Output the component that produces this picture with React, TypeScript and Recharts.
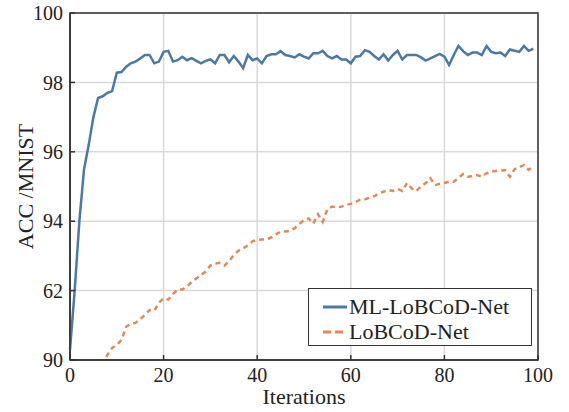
import React from 'react';
import {
  LineChart,
  Line,
  XAxis,
  YAxis,
  CartesianGrid,
  Legend,
  ReferenceArea,
} from 'recharts';

const iterations = Array.from({ length: 100 }, (_, i) => i);

// accuracy per iteration, ML-LoBCoD-Net
const mlLobcodAcc = [
  90.3, 92.0, 94.0, 95.5, 96.2, 97.0, 97.55, 97.6, 97.7, 97.75,
  98.28, 98.3, 98.45, 98.55, 98.6, 98.69, 98.79, 98.79, 98.55, 98.6,
  98.88, 98.91, 98.6, 98.64, 98.74, 98.64, 98.7, 98.62, 98.55, 98.62,
  98.66, 98.55, 98.79, 98.79, 98.58, 98.76, 98.6, 98.41, 98.79, 98.64,
  98.69, 98.55, 98.76, 98.81, 98.81, 98.9, 98.79, 98.76, 98.72, 98.81,
  98.74, 98.69, 98.84, 98.84, 98.91, 98.76, 98.69, 98.76, 98.66, 98.66,
  98.55, 98.74, 98.76, 98.93, 98.88, 98.76, 98.66, 98.81, 98.63, 98.79,
  98.91, 98.66, 98.79, 98.79, 98.79, 98.72, 98.63, 98.69, 98.76, 98.82,
  98.74, 98.5, 98.79, 99.05, 98.9, 98.79, 98.86, 98.86, 98.79, 99.05,
  98.88, 98.84, 98.86, 98.76, 98.95, 98.91, 98.88, 99.05, 98.91, 98.97,
];

// accuracy per iteration, LoBCoD-Net (below 90 for the first iterations)
const lobcodAcc: (number | null)[] = [
  null, null, null, null, null, null, null, 89.85, 90.15, 90.35,
  90.43, 90.58, 90.96, 91.04, 91.07, 91.17, 91.3, 91.44, 91.42, 91.65,
  91.78, 91.74, 91.9, 92.03, 92.03, 92.12, 92.25, 92.35, 92.45, 92.55,
  92.72, 92.78, 92.8, 92.72, 92.85, 93.03, 93.15, 93.22, 93.3, 93.42,
  93.46, 93.47, 93.47, 93.53, 93.62, 93.7, 93.7, 93.72, 93.8, 93.92,
  94.03, 94.08, 93.93, 94.2, 93.98, 94.35, 94.42, 94.4, 94.42, 94.47,
  94.5, 94.55, 94.62, 94.63, 94.68, 94.72, 94.8, 94.85, 94.9, 94.87,
  94.93, 94.87, 95.1, 94.95, 94.87, 95.0, 95.1, 95.24, 95.04, 95.08,
  95.1, 95.14, 95.14, 95.25, 95.36, 95.28, 95.3, 95.33, 95.28, 95.38,
  95.43, 95.45, 95.46, 95.47, 95.28, 95.5, 95.55, 95.62, 95.48, 95.58,
];

const xTicks = [0, 20, 40, 60, 80, 100];
const yTicks = [90, 92, 94, 96, 98, 100];
const yTickLabels = ['90', '62', '94', '96', '98', '100'];

const series = [
  { key: 'ml', name: 'ML-LoBCoD-Net', color: '#4a79a5', dash: undefined },
  { key: 'lob', name: 'LoBCoD-Net', color: '#e0895a', dash: '5 4' },
];

const data = iterations.map((it, i) => ({
  it,
  ml: mlLobcodAcc[i],
  lob: lobcodAcc[i],
}));

const FONT = '"Liberation Serif", "DejaVu Serif", serif';
const INK = '#222';

function LegendBox() {
  return (
    <div
      style={{
        boxSizing: 'border-box',
        width: 224,
        height: 58,
        border: '1.5px solid #333',
        background: '#fff',
        padding: '5px 0 0 13px',
        fontFamily: FONT,
        fontSize: 22,
        color: INK,
        lineHeight: '25px',
        textAlign: 'left',
      }}
    >
      {series.map((s) => (
        <div key={s.key} style={{ display: 'flex', alignItems: 'center', height: 25 }}>
          <svg width={26} height={10} style={{ marginRight: 1 }}>
            <line
              x1={1}
              y1={5}
              x2={25}
              y2={5}
              stroke={s.color}
              strokeWidth={3}
              strokeDasharray={s.dash ? '8 4' : undefined}
            />
          </svg>
          <span>{s.name}</span>
        </div>
      ))}
    </div>
  );
}

export default function App() {
  return (
    <div style={{ position: 'absolute', left: 0, top: 0, background: '#fff' }}>
      <LineChart
        width={569}
        height={412}
        data={data}
        margin={{ top: 13, right: 31, bottom: 0, left: 0 }}
      >
        <CartesianGrid stroke="#d9d9d9" strokeWidth={1.5} />
        <XAxis
          dataKey="it"
          type="number"
          domain={[0, 100]}
          ticks={xTicks}
          height={52}
          stroke="#333"
          strokeWidth={1.5}
          tickSize={-5}
          tickMargin={13}
          tick={{ fontSize: 20, fill: INK, fontFamily: FONT }}
          label={{
            value: 'Iterations',
            position: 'insideBottom',
            offset: 8,
            style: { fontSize: 22, fill: INK, fontFamily: FONT },
          }}
        />
        <YAxis
          type="number"
          domain={[90, 100]}
          ticks={yTicks}
          allowDataOverflow
          width={70}
          stroke="#333"
          strokeWidth={1.5}
          tickSize={-5}
          tickMargin={12}
          tickFormatter={(v: number) => yTickLabels[yTicks.indexOf(v)] ?? String(v)}
          tick={{ fontSize: 20, fill: INK, fontFamily: FONT }}
          label={{
            value: 'ACC /MNIST',
            angle: -90,
            position: 'insideLeft',
            offset: 25,
            style: { fontSize: 22, fill: INK, fontFamily: FONT, textAnchor: 'middle' },
          }}
        />
        <ReferenceArea x1={0} x2={100} y1={90} y2={100} fill="none" stroke="#333" strokeWidth={1.5} />
        {series.map((s) => (
          <Line
            key={s.key}
            dataKey={s.key}
            name={s.name}
            stroke={s.color}
            strokeWidth={2.5}
            strokeDasharray={s.dash}
            dot={false}
            connectNulls={false}
            isAnimationActive={false}
          />
        ))}
        <Legend
          layout="vertical"
          align="center"
          verticalAlign="middle"
          content={() => <LegendBox />}
          wrapperStyle={{ left: 308, top: 288, width: 224, height: 58 }}
        />
      </LineChart>
    </div>
  );
}
